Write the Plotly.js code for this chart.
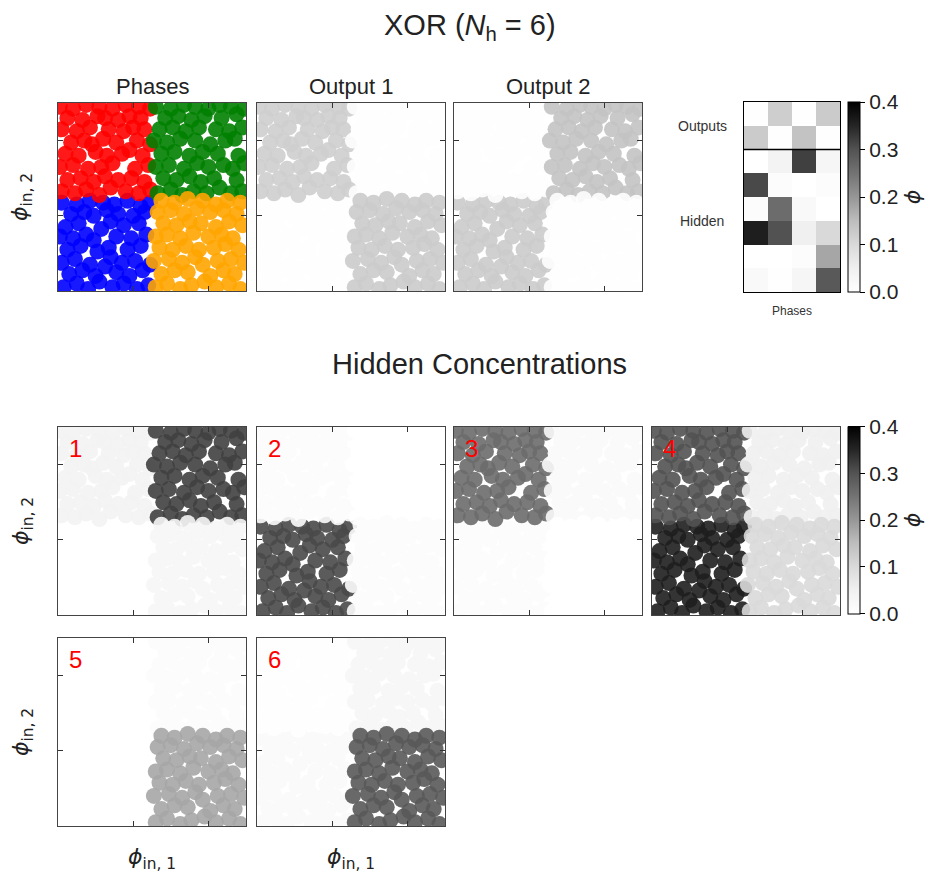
<!DOCTYPE html>
<html><head><meta charset="utf-8">
<script src="https://cdn.plot.ly/plotly-3.0.1.min.js"></script>
<style>body{margin:0;background:#fff}#plot{width:932px;height:876px}</style>
</head><body><div id="plot"></div>
<script>
// ---- data ----
const phaseNames = ['blue', 'red', 'green', 'orange']; // heatmap column order
const phaseColors = ['#0000ff', '#ff0000', '#008000', '#ffa500'];

const blueX = [0.03,0.10,0.16,0.22,0.29,0.35,0.42,0.48, 0.06,0.13,0.20,0.31,0.38,0.45, 0.02,0.09,0.17,0.25,0.28,0.34,0.41,0.49, 0.05,0.12,0.21,0.27,0.37,0.44, 0.01,0.08,0.15,0.19,0.31,0.39,0.47, 0.04,0.11,0.23,0.28,0.35,0.43, 0.07,0.14,0.19,0.26,0.32,0.40,0.46, 0.02,0.10,0.17,0.24,0.30,0.37,0.44,0.49];
const blueY = [0.02,0.04,0.01,0.05,0.02,0.04,0.01,0.03, 0.09,0.11,0.08,0.10,0.08,0.11, 0.15,0.17,0.14,0.13,0.18,0.15,0.16,0.14, 0.22,0.24,0.21,0.23,0.22,0.24, 0.29,0.28,0.30,0.27,0.29,0.28,0.30, 0.34,0.36,0.33,0.37,0.35,0.36, 0.41,0.42,0.40,0.43,0.41,0.40,0.42, 0.47,0.46,0.48,0.47,0.46,0.48,0.45,0.47];

const redX = [0.02,0.09,0.15,0.22,0.28,0.36,0.43,0.49, 0.05,0.12,0.19,0.25,0.32,0.39,0.46, 0.01,0.08,0.16,0.23,0.29,0.41,0.48, 0.04,0.11,0.20,0.26,0.34,0.38,0.45, 0.07,0.14,0.18,0.24,0.31,0.42,0.49, 0.02,0.10,0.17,0.27,0.35,0.40,0.46, 0.05,0.13,0.21,0.25,0.32,0.38,0.44, 0.01,0.08,0.15,0.22,0.29,0.36,0.43,0.49];
const redY = [0.53,0.52,0.54,0.51,0.55,0.53,0.52,0.54, 0.59,0.60,0.58,0.61,0.59,0.60,0.58, 0.66,0.67,0.65,0.66,0.68,0.65,0.67, 0.73,0.72,0.74,0.72,0.73,0.75,0.72, 0.79,0.80,0.78,0.81,0.79,0.80,0.78, 0.86,0.85,0.87,0.86,0.85,0.87,0.86, 0.92,0.91,0.93,0.92,0.91,0.93,0.92, 0.98,0.97,0.99,0.98,0.97,0.99,0.98,0.97];

const greenX = [0.53,0.60,0.66,0.72,0.79,0.86,0.92,0.98, 0.56,0.63,0.70,0.76,0.83,0.95, 0.52,0.59,0.67,0.74,0.80,0.88,0.93,0.99, 0.55,0.62,0.70,0.77,0.85,0.96, 0.51,0.58,0.65,0.73,0.81,0.89,0.94, 0.54,0.61,0.68,0.75,0.84,0.91,0.98, 0.57,0.64,0.71,0.78,0.87,0.95, 0.52,0.60,0.67,0.73,0.80,0.86,0.92,0.99];
const greenY = [0.52,0.54,0.51,0.53,0.52,0.55,0.52,0.53, 0.60,0.59,0.61,0.58,0.60,0.59, 0.66,0.67,0.65,0.68,0.66,0.67,0.65,0.68, 0.73,0.74,0.72,0.74,0.73,0.72, 0.80,0.79,0.81,0.80,0.78,0.80,0.81, 0.86,0.87,0.85,0.87,0.86,0.85,0.87, 0.92,0.93,0.91,0.93,0.92,0.94, 0.98,0.97,0.99,0.98,0.97,0.99,0.98,0.97];

const orangeX = [0.52,0.58,0.65,0.71,0.78,0.84,0.91,0.97, 0.55,0.62,0.69,0.81,0.88,0.94, 0.51,0.59,0.66,0.73,0.77,0.85,0.92,0.99, 0.54,0.61,0.68,0.75,0.83,0.89,0.96, 0.52,0.58,0.65,0.72,0.80,0.87,0.93, 0.56,0.63,0.70,0.76,0.84,0.91,0.98, 0.53,0.60,0.67,0.74,0.81,0.88,0.95, 0.55,0.62,0.69,0.77,0.84,0.90,0.97];
const orangeY = [0.02,0.04,0.01,0.03,0.05,0.02,0.04,0.01, 0.09,0.11,0.10,0.08,0.11,0.09, 0.16,0.17,0.15,0.18,0.14,0.16,0.17,0.15, 0.23,0.22,0.24,0.22,0.23,0.25,0.22, 0.29,0.30,0.28,0.31,0.29,0.30,0.28, 0.36,0.35,0.37,0.36,0.34,0.37,0.35, 0.42,0.43,0.41,0.44,0.42,0.43,0.41, 0.48,0.47,0.49,0.48,0.46,0.48,0.47];

// mean concentration per phase (columns: blue, red, green, orange)
const outputLabels = ['Output 1', 'Output 2'];
const outputVals = [
  [0.005, 0.12, 0.005, 0.125],
  [0.125, 0.005, 0.14, 0.005]
];
const hiddenLabels = ['1', '2', '3', '4', '5', '6'];
const hiddenVals = [
  [0.00, 0.04, 0.32, 0.03],
  [0.31, 0.01, 0.00, 0.01],
  [0.01, 0.26, 0.02, 0.00],
  [0.36, 0.30, 0.05, 0.10],
  [0.00, 0.00, 0.01, 0.18],
  [0.02, 0.005, 0.03, 0.29]
];
const cbTicks = [0, 0.1, 0.2, 0.3, 0.4];
const cbTickText = ['0.0', '0.1', '0.2', '0.3', '0.4'];

// ---- layout helpers ----
const W = 932, H = 876;
const dx = p => p / W;
const dy = p => 1 - p / H;
const greys = [[0,'#ffffff'],[0.125,'#f0f0f0'],[0.25,'#d9d9d9'],[0.375,'#bdbdbd'],[0.5,'#969696'],[0.625,'#737373'],[0.75,'#525252'],[0.875,'#252525'],[1,'#000000']];
const FONT = 'Liberation Sans, Arial, sans-serif';
const PHI = 'DejaVu Sans, sans-serif';

const quadX = [blueX, redX, greenX, orangeX];
const quadY = [blueY, redY, greenY, orangeY];
const allX = [].concat(...quadX);
const allY = [].concat(...quadY);

const SIZE = 188;
const MSIZE = 16;
const colX = [58, 257, 454, 652];
const rowY = [103, 427, 638];

function cbar(yc, len) {
  return {
    x: dx(848), xanchor: 'left', y: dy(yc), yanchor: 'middle',
    len: len / H, lenmode: 'fraction', thickness: 12, xpad: 0, ypad: 0,
    outlinewidth: 1, outlinecolor: '#000',
    tickmode: 'array', tickvals: cbTicks, ticktext: cbTickText,
    ticks: 'outside', ticklen: 5, tickwidth: 1, tickcolor: '#000',
    tickfont: {size: 21, family: FONT, color: '#222'},
    title: {text: '<i>ϕ</i>', side: 'right', font: {size: 22, family: PHI, color: '#222'}}
  };
}

const layout = {
  width: W, height: H, margin: {l:0, r:0, t:0, b:0},
  paper_bgcolor: '#fff', plot_bgcolor: '#fff',
  showlegend: false,
  font: {family: FONT, color: '#222'},
  annotations: [], shapes: [],
  coloraxis: {colorscale: greys, cmin: 0, cmax: 0.4, colorbar: cbar(197, 190)},
  coloraxis2: {colorscale: greys, cmin: 0, cmax: 0.4, colorbar: cbar(520, 187)}
};

function note(x, y, text, size, extra) {
  return Object.assign({xref: 'paper', yref: 'paper', x: x, y: y, text: text, showarrow: false,
    xanchor: 'center', yanchor: 'middle', font: {size: size, family: FONT, color: '#222'}}, extra || {});
}

const traces = [];
let axN = 0;
function addAxes(x0, y0) {
  axN++;
  const s = axN === 1 ? '' : String(axN);
  const common = {
    range: [0, 1], showgrid: false, zeroline: false, showticklabels: false,
    tickmode: 'array', tickvals: [0.4, 0.8], ticks: 'inside', ticklen: 5, tickwidth: 1, tickcolor: '#333',
    showline: true, mirror: 'ticks', linecolor: '#444', linewidth: 1.3, fixedrange: true
  };
  layout['xaxis' + s] = Object.assign({}, common, {domain: [dx(x0), dx(x0 + SIZE)], anchor: 'y' + s});
  layout['yaxis' + s] = Object.assign({}, common, {domain: [dy(y0 + SIZE), dy(y0)], anchor: 'x' + s});
  return {xa: 'x' + s, ya: 'y' + s};
}

function valuePanel(x0, y0, vals, cax) {
  const a = addAxes(x0, y0);
  const colors = [];
  quadX.forEach((q, i) => q.forEach(() => colors.push(vals[i])));
  traces.push({
    type: 'scatter', mode: 'markers', x: allX, y: allY, xaxis: a.xa, yaxis: a.ya,
    marker: {size: MSIZE, color: colors, coloraxis: cax, opacity: 0.9, line: {width: 0}},
    hoverinfo: 'skip'
  });
  return a;
}

// Phases panel
{
  const a = addAxes(colX[0], rowY[0]);
  quadX.forEach((q, i) => {
    traces.push({
      type: 'scatter', mode: 'markers', x: quadX[i], y: quadY[i], xaxis: a.xa, yaxis: a.ya,
      marker: {size: MSIZE, color: phaseColors[i], opacity: 0.9, line: {width: 0}}, hoverinfo: 'skip'
    });
  });
}
// Output panels
outputVals.forEach((v, i) => valuePanel(colX[i + 1], rowY[0], v, 'coloraxis'));
// Hidden panels
hiddenVals.forEach((v, i) => {
  const r = i < 4 ? 1 : 2;
  const c = i < 4 ? i : i - 4;
  const a = valuePanel(colX[c], rowY[r], v, 'coloraxis2');
  layout.annotations.push({
    xref: a.xa + ' domain', yref: a.ya + ' domain', x: 0.05, y: 0.97,
    xanchor: 'left', yanchor: 'top', text: hiddenLabels[i], showarrow: false,
    font: {size: 24, color: '#ff0000', family: FONT}
  });
});

// Heatmap of mean concentrations
{
  axN++;
  const s = String(axN);
  const z = outputVals.concat(hiddenVals);
  layout['xaxis' + s] = {domain: [dx(744), dx(840)], anchor: 'y' + s, range: [-0.5, phaseNames.length - 0.5],
    showgrid: false, zeroline: false, showticklabels: false, ticks: '', showline: true, mirror: true, linecolor: '#000', linewidth: 1};
  layout['yaxis' + s] = {domain: [dy(292), dy(102)], anchor: 'x' + s, range: [z.length - 0.5, -0.5],
    showgrid: false, zeroline: false, showticklabels: false, ticks: '', showline: true, mirror: true, linecolor: '#000', linewidth: 1};
  traces.push({
    type: 'heatmap', z: z, x: phaseNames.map((_, i) => i), y: z.map((_, i) => i),
    xaxis: 'x' + s, yaxis: 'y' + s, coloraxis: 'coloraxis', hoverinfo: 'skip'
  });
  layout.shapes.push({type: 'line', xref: 'x' + s, yref: 'y' + s,
    x0: -0.5, x1: phaseNames.length - 0.5, y0: outputVals.length - 0.5, y1: outputVals.length - 0.5,
    line: {color: '#000', width: 1.5}});
  layout.annotations.push(
    note(dx(702), (outputVals.length - 1) / 2, 'Outputs', 14, {yref: 'y' + s, font: {size: 14, family: FONT, color: '#333'}}),
    note(dx(702), outputVals.length + (hiddenVals.length - 1) / 2, 'Hidden', 14, {yref: 'y' + s, font: {size: 14, family: FONT, color: '#333'}}),
    note(dx(792), dy(311), 'Phases', 12, {font: {size: 12, family: FONT, color: '#333'}})
  );
}

// Titles and axis labels
const phiLabel = n => '<i>ϕ</i><sub>in, ' + n + '</sub>';
layout.annotations.push(
  note(dx(470), dy(27), 'XOR (<i>N</i><sub>h</sub> = 6)', 29),
  note(dx(479), dy(364), 'Hidden Concentrations', 29),
  note(dx(colX[0] + SIZE / 2), dy(86), 'Phases', 22)
);
outputLabels.forEach((t, i) => layout.annotations.push(note(dx(colX[i + 1] + SIZE / 2), dy(86), t, 22)));
rowY.forEach(y0 => layout.annotations.push(
  note(dx(22), dy(y0 + SIZE / 2), phiLabel(2), 22, {textangle: -90, font: {size: 22, family: PHI, color: '#222'}})));
[0, 1].forEach(c => layout.annotations.push(
  note(dx(colX[c] + SIZE / 2), dy(858), phiLabel(1), 22, {font: {size: 22, family: PHI, color: '#222'}})));

Plotly.newPlot('plot', traces, layout, {staticPlot: true, displayModeBar: false});
</script>
</body></html>
